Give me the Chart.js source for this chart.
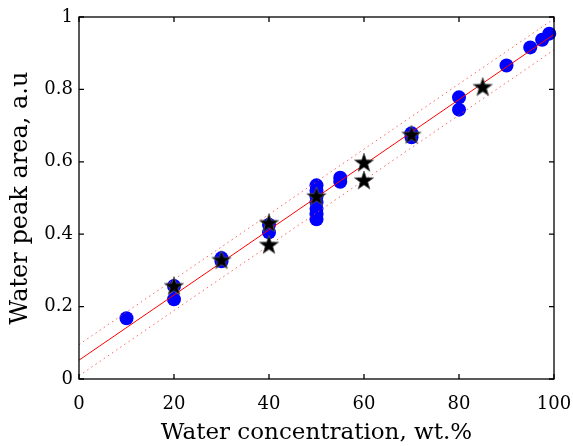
<!DOCTYPE html>
<html lang="en">
<head>
  <meta charset="UTF-8">
  <title>Water peak area</title>
  <script src="https://cdn.jsdelivr.net/npm/chart.js"></script>
  <style>
    body { margin: 0; background: #fff; }
    #wrap { width: 573px; height: 446px; }
  </style>
</head>
<body>
  <div id="wrap"><canvas id="myChart"></canvas></div>

  <script>
    // calibration points (blue circles)
    const blueX = [10, 20, 20, 30, 30, 40, 40, 50, 50, 50, 50, 50, 50, 50, 55, 55, 70, 70, 80, 80, 90, 95, 97.5, 99];
    const blueY = [0.168, 0.220, 0.257, 0.325, 0.334, 0.405, 0.426, 0.441, 0.455, 0.470, 0.488, 0.505, 0.520, 0.535,
                   0.545, 0.556, 0.668, 0.679, 0.744, 0.778, 0.866, 0.916, 0.937, 0.954];

    // validation points (black stars)
    const starX = [20, 30, 40, 40, 50, 60, 60, 70, 85];
    const starY = [0.258, 0.330, 0.432, 0.372, 0.506, 0.599, 0.550, 0.676, 0.808];

    // fit line and its band
    const fitX = [0, 100];
    const fitY = [0.052, 0.952];
    const upperY = [0.095, 0.995];
    const lowerY = [0.009, 0.909];

    const xTicks = [0, 20, 40, 60, 80, 100];
    const yTicks = [0, 0.2, 0.4, 0.6, 0.8, 1];

    function pts(xs, ys) {
      return xs.map((x, i) => ({ x: x, y: ys[i] }));
    }

    // filled five point star for the marker
    function makeStar(r) {
      const c = document.createElement('canvas');
      const s = Math.ceil(r * 2 + 4);
      c.width = s; c.height = s;
      const g = c.getContext('2d');
      g.translate(s / 2, s / 2 + 1);
      g.beginPath();
      for (let i = 0; i < 10; i++) {
        const rad = i % 2 === 0 ? r : r * 0.4;
        const a = -Math.PI / 2 + i * Math.PI / 5;
        g.lineTo(rad * Math.cos(a), rad * Math.sin(a));
      }
      g.closePath();
      g.fillStyle = '#000';
      g.fill();
      g.strokeStyle = 'rgba(90,90,90,0.8)';
      g.lineWidth = 1;
      g.stroke();
      return c;
    }

    // box with inward ticks on all four sides
    const framePlugin = {
      id: 'frame',
      afterDraw(chart) {
        const ctx = chart.ctx;
        const a = chart.chartArea;
        const xs = chart.scales.x, ys = chart.scales.y;
        const len = 5;
        ctx.save();
        ctx.strokeStyle = '#000';
        ctx.lineWidth = 1.3;
        ctx.strokeRect(a.left, a.top, a.right - a.left, a.bottom - a.top);
        ctx.beginPath();
        xTicks.forEach(v => {
          const px = xs.getPixelForValue(v);
          ctx.moveTo(px, a.bottom); ctx.lineTo(px, a.bottom - len);
          ctx.moveTo(px, a.top); ctx.lineTo(px, a.top + len);
        });
        yTicks.forEach(v => {
          const py = ys.getPixelForValue(v);
          ctx.moveTo(a.left, py); ctx.lineTo(a.left + len, py);
          ctx.moveTo(a.right, py); ctx.lineTo(a.right - len, py);
        });
        ctx.stroke();
        ctx.restore();
      }
    };

    const ctx = document.getElementById('myChart').getContext('2d');
    const myChart = new Chart(ctx, {
      type: 'scatter',
      data: {
        datasets: [
          {
            label: 'validation',
            data: pts(starX, starY),
            pointStyle: makeStar(10),
            pointRadius: 10,
            order: 0,
            clip: false
          },
          {
            label: 'fit',
            data: pts(fitX, fitY),
            showLine: true,
            borderColor: '#ff0000',
            borderWidth: 1,
            pointRadius: 0,
            order: 1
          },
          {
            label: 'upper',
            data: pts(fitX, upperY),
            showLine: true,
            borderColor: 'rgba(255,60,60,0.8)',
            borderWidth: 1,
            borderDash: [1.5, 3.5],
            pointRadius: 0,
            order: 2
          },
          {
            label: 'lower',
            data: pts(fitX, lowerY),
            showLine: true,
            borderColor: 'rgba(255,60,60,0.8)',
            borderWidth: 1,
            borderDash: [1.5, 3.5],
            pointRadius: 0,
            order: 3
          },
          {
            label: 'calibration',
            data: pts(blueX, blueY),
            pointStyle: 'circle',
            pointRadius: 7,
            backgroundColor: '#0000ff',
            borderWidth: 0,
            order: 4,
            clip: false
          }
        ]
      },
      options: {
        responsive: true,
        maintainAspectRatio: false,
        animation: false,
        layout: { padding: { top: 17, right: 19, left: 0, bottom: 0 } },
        plugins: {
          legend: { display: false },
          tooltip: { enabled: false }
        },
        scales: {
          x: {
            type: 'linear',
            min: 0,
            max: 100,
            afterFit: s => { s.height = 67; s.paddingLeft = 0; s.paddingRight = 0; },
            afterBuildTicks: s => { s.ticks = xTicks.map(v => ({ value: v })); },
            grid: { display: false, drawTicks: false },
            border: { display: false },
            ticks: {
              color: '#000',
              padding: 15,
              maxRotation: 0,
              callback: v => String(v),
              font: { family: 'DejaVu Serif', size: 18 }
            },
            title: {
              display: true,
              text: 'Water concentration, wt.%',
              color: '#000',
              padding: { top: 0, bottom: -1 },
              font: { family: 'DejaVu Serif', size: 23 }
            }
          },
          y: {
            type: 'linear',
            min: 0,
            max: 1,
            afterFit: s => { s.width = 79; s.paddingTop = 0; s.paddingBottom = 0; },
            afterBuildTicks: s => { s.ticks = yTicks.map(v => ({ value: v })); },
            grid: { display: false, drawTicks: false },
            border: { display: false },
            ticks: {
              color: '#000',
              padding: 6,
              callback: v => String(v),
              font: { family: 'DejaVu Serif', size: 18 }
            },
            title: {
              display: true,
              text: 'Water peak area, a.u',
              color: '#000',
              padding: { top: 6, bottom: 0 },
              font: { family: 'DejaVu Serif', size: 24 }
            }
          }
        }
      },
      plugins: [framePlugin]
    });
  </script>
</body>
</html>
